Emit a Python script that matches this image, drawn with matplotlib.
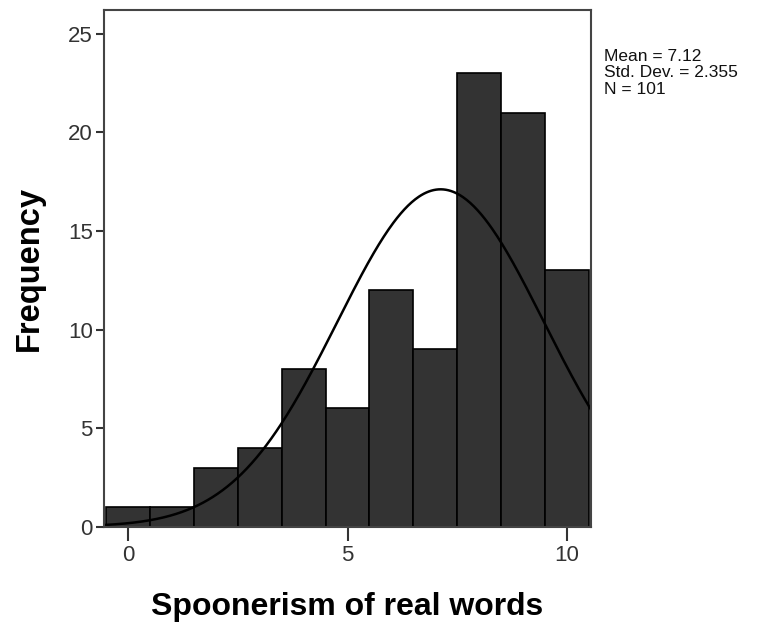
import numpy as np
import matplotlib.pyplot as plt

plt.rcParams['font.family'] = ['Liberation Sans', 'DejaVu Sans']

# histogram of scores (bin centres and counts)
scores = [0, 1, 2, 3, 4, 5, 6, 7, 8, 9, 10]
counts = [1, 1, 3, 4, 8, 6, 12, 9, 23, 21, 13]
mean = 7.12
std_dev = 2.355
n_total = 101

fig = plt.figure(figsize=(7.72, 6.3), dpi=100)
ax = fig.add_axes([0.1347, 0.164, 0.631, 0.82])

ax.bar(scores, counts, width=1.0, color="#333333", edgecolor="black", linewidth=1.2)

# normal curve scaled to counts
xs = np.linspace(-0.55, 10.55, 400)
ys = n_total * 1.0 / (std_dev * np.sqrt(2 * np.pi)) * np.exp(-0.5 * ((xs - mean) / std_dev) ** 2)
ax.plot(xs, ys, color="black", linewidth=1.8)

ax.set_xlim(-0.55, 10.55)
ax.set_ylim(0, 26.2)
ax.set_xticks([0, 5, 10])
ax.set_yticks([0, 5, 10, 15, 20, 25])
ax.tick_params(axis="x", length=10, width=1.5, labelsize=16, colors="#333333", pad=3)
ax.tick_params(axis="y", length=6, width=1.5, labelsize=16, colors="#333333", pad=2)
for s in ax.spines.values():
    s.set_color("#444444")
    s.set_linewidth(1.5)

ax.set_xlabel("Spoonerism of real words", fontsize=23, fontweight="bold", labelpad=19)
ax.set_ylabel("Frequency", fontsize=23.5, fontweight="bold", labelpad=17)

fig.text(0.782, 0.923, f"Mean = {mean}\nStd. Dev. = {std_dev}\nN = {n_total}",
         fontsize=12.5, va="top", ha="left", linespacing=1.15, color="#111111")

plt.savefig("out.png", dpi=100)
